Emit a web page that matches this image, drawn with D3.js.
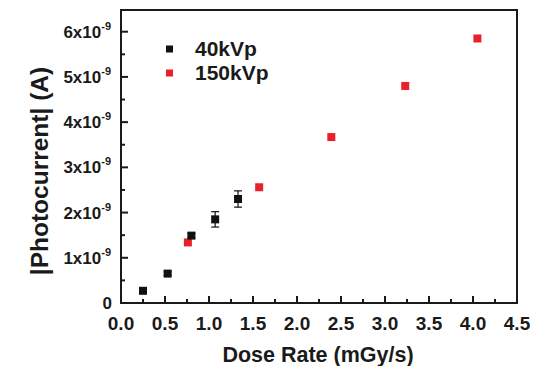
<!DOCTYPE html>
<html>
<head>
  <meta charset="UTF-8">
  <style>
    body { margin: 0; background: #fff; }
    svg text { font-family: "Liberation Sans", Arial, sans-serif; font-weight: bold; fill: #1a1a1a; }
  </style>
  <script src="https://d3js.org/d3.v7.min.js"></script>
</head>
<body>
<svg id="chart" width="543" height="366"></svg>
<script>
// data
var dose40 = [0.25, 0.53, 0.80, 1.07, 1.33];
var curr40 = [0.27, 0.65, 1.49, 1.85, 2.30];   // x1e-9 A
var err40 = [0.03, 0.04, 0.05, 0.17, 0.18];
var dose150 = [0.76, 1.57, 2.39, 3.23, 4.05];
var curr150 = [1.34, 2.56, 3.67, 4.80, 5.85];
var xTicks = [0, 0.5, 1, 1.5, 2, 2.5, 3, 3.5, 4, 4.5];
var yTicks = [0, 1, 2, 3, 4, 5, 6];
var seriesNames = ["40kVp", "150kVp"];
var seriesColors = ["#111111", "#e8202a"];

var svg = d3.select("#chart");
var pLeft = 121, pRight = 517, pTop = 10, pBottom = 303;

var x = d3.scaleLinear().domain([0, 4.5]).range([pLeft, pRight]);
var y = d3.scaleLinear().domain([0, 6.48]).range([pBottom, pTop]);

// frame
svg.append("rect")
  .attr("x", pLeft).attr("y", pTop)
  .attr("width", pRight - pLeft).attr("height", pBottom - pTop)
  .attr("fill", "none").attr("stroke", "#1a1a1a").attr("stroke-width", 2);

// x ticks (inward)
var xMinor = d3.range(0.25, 4.5, 0.5);
var gx = svg.append("g");
gx.selectAll("line.maj").data(xTicks).enter().append("line")
  .attr("x1", d => x(d)).attr("x2", d => x(d))
  .attr("y1", pBottom).attr("y2", pBottom - 7)
  .attr("stroke", "#1a1a1a").attr("stroke-width", 2);
gx.selectAll("line.min").data(xMinor).enter().append("line")
  .attr("x1", d => x(d)).attr("x2", d => x(d))
  .attr("y1", pBottom).attr("y2", pBottom - 4)
  .attr("stroke", "#1a1a1a").attr("stroke-width", 2);
gx.selectAll("text").data(xTicks).enter().append("text")
  .attr("x", d => x(d)).attr("y", pBottom + 27)
  .attr("text-anchor", "middle").attr("font-size", 19)
  .text(d => d.toFixed(1));

// y ticks (inward)
var yMinor = d3.range(0.5, 6.5, 1);
var gy = svg.append("g");
gy.selectAll("line.maj").data(yTicks).enter().append("line")
  .attr("x1", pLeft).attr("x2", pLeft + 7)
  .attr("y1", d => y(d)).attr("y2", d => y(d))
  .attr("stroke", "#1a1a1a").attr("stroke-width", 2);
gy.selectAll("line.min").data(yMinor).enter().append("line")
  .attr("x1", pLeft).attr("x2", pLeft + 4)
  .attr("y1", d => y(d)).attr("y2", d => y(d))
  .attr("stroke", "#1a1a1a").attr("stroke-width", 2);
var ylab = gy.selectAll("text").data(yTicks).enter().append("text")
  .attr("x", 111).attr("y", d => y(d) + 6)
  .attr("text-anchor", "end").attr("font-size", 17);
ylab.each(function(d) {
  var t = d3.select(this);
  if (d === 0) { t.attr("x", 112).text("0"); return; }
  t.append("tspan").text(d + "x10");
  t.append("tspan").attr("dy", -8).attr("font-size", 11).text("-9");
});

// error bars
var errG = svg.append("g");
dose40.forEach(function(d, i) {
  var cx = x(d), y1 = y(curr40[i] - err40[i]), y2 = y(curr40[i] + err40[i]);
  errG.append("line").attr("x1", cx).attr("x2", cx).attr("y1", y1).attr("y2", y2)
    .attr("stroke", "#111").attr("stroke-width", 1.2);
  [y1, y2].forEach(function(yy) {
    errG.append("line").attr("x1", cx - 4).attr("x2", cx + 4).attr("y1", yy).attr("y2", yy)
      .attr("stroke", "#111").attr("stroke-width", 1.2);
  });
});

// markers
var s = 8;
svg.append("g").selectAll("rect").data(dose150).enter().append("rect")
  .attr("x", (d) => x(d) - s / 2)
  .attr("y", (d, i) => y(curr150[i]) - s / 2)
  .attr("width", s).attr("height", s)
  .attr("fill", seriesColors[1]);
svg.append("g").selectAll("rect").data(dose40).enter().append("rect")
  .attr("x", (d) => x(d) - s / 2)
  .attr("y", (d, i) => y(curr40[i]) - s / 2)
  .attr("width", s).attr("height", s)
  .attr("fill", seriesColors[0]);

// legend
var leg = svg.append("g");
seriesNames.forEach(function(n, i) {
  var ly = 49 + i * 24;
  leg.append("rect").attr("x", 166).attr("y", ly - 3.5).attr("width", 7).attr("height", 7)
    .attr("fill", seriesColors[i]);
  leg.append("text").attr("x", 195).attr("y", ly + 7).attr("font-size", 21).text(n);
});

// axis titles
svg.append("text").attr("x", 318).attr("y", 362)
  .attr("text-anchor", "middle").attr("font-size", 21.5)
  .text("Dose Rate (mGy/s)");
svg.append("text")
  .attr("transform", "translate(48," + 171 + ") rotate(-90)")
  .attr("text-anchor", "middle").attr("font-size", 24.5)
  .text("|Photocurrent| (A)");
</script>
</body>
</html>
